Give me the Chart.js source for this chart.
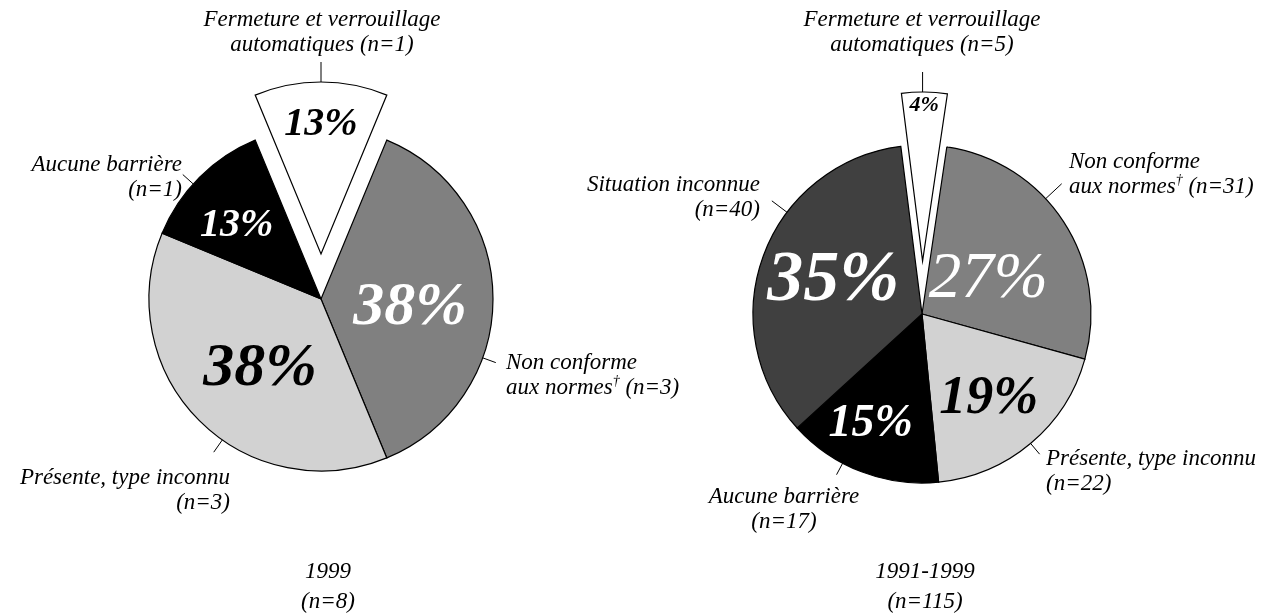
<!DOCTYPE html>
<html><head><meta charset="utf-8">
<script src="https://cdn.jsdelivr.net/npm/chart.js@4.4.1/dist/chart.umd.min.js"></script>
<style>
html,body{margin:0;padding:0;background:#fff;}
#wrap{position:relative;width:1270px;height:614px;background:#fff;}
canvas{position:absolute;left:0;top:0;}
</style></head><body>
<div id="wrap"><canvas id="c1" width="1270" height="614"></canvas><canvas id="c2" width="1270" height="614"></canvas></div>
<script>
// ---- data ----
const categories1999 = ['Fermeture et verrouillage automatiques', 'Non conforme aux normes†', 'Présente, type inconnu', 'Aucune barrière'];
const counts1999 = [1, 3, 3, 1];
const percents1999 = ['13%', '38%', '38%', '13%'];
const title1999 = ['1999', '(n=8)'];

const categoriesAll = ['Fermeture et verrouillage automatiques', 'Non conforme aux normes†', 'Présente, type inconnu', 'Aucune barrière', 'Situation inconnue'];
const countsAll = [5, 31, 22, 17, 40];
const percentsAll = ['4%', '27%', '19%', '15%', '35%'];
const titleAll = ['1991-1999', '(n=115)'];

// ---- styles ----
const FONT = '"Liberation Serif", "DejaVu Serif", serif';
const colors1999 = ['#ffffff', '#808080', '#d2d2d2', '#000000'];
const colorsAll = ['#ffffff', '#808080', '#d2d2d2', '#000000', '#404040'];

// label layouts (annotation positions, not data)
const layout1999 = {
  cx: 321, cy: 299, r: 172, rotation: -22.5, explodeIndex: 0, explode: 45,
  pct: [ {f:0.75, size:40, color:'#000', bold:true},
         {f:0.52, size:62, color:'#fff', bold:true, da:6},
         {f:0.54, size:62, color:'#000', bold:true, da:-4},
         {f:0.65, size:40, color:'#fff', bold:true, da:-4} ],
  labels: [
    {lines:['Fermeture et verrouillage', 'automatiques (n=1)'], x:322, y:20, align:'center', lead:{a:0, len:20}},
    {lines:['Non conforme', 'aux normes† (n=3)'], x:506, y:363, align:'left', lead:{a:110, len:14}},
    {lines:['Présente, type inconnu', '(n=3)'], x:230, y:478, align:'right', lead:{a:215, len:15}},
    {lines:['Aucune barrière', '(n=1)'], x:182, y:165, align:'right', lead:{a:312, len:14}}
  ],
  title: {x:328, y:572}
};
const layoutAll = {
  cx: 922, cy: 314, r: 169, rotation: -7.2, explodeIndex: 0, explode: 53,
  pct: [ {f:0.92, size:22, color:'#000', bold:true},
         {f:0.44, size:65, color:'#fff', bold:false, da:6},
         {f:0.64, size:54, color:'#000', bold:true, da:2},
         {f:0.72, size:46, color:'#fff', bold:true, da:4},
         {f:0.56, size:72, color:'#fff', bold:true, da:0} ],
  labels: [
    {lines:['Fermeture et verrouillage', 'automatiques (n=5)'], x:922, y:20, align:'center', lead:{a:0, len:20}},
    {lines:['Non conforme', 'aux normes† (n=31)'], x:1069, y:162, align:'left', lead:{a:47, len:22}},
    {lines:['Présente, type inconnu', '(n=22)'], x:1046, y:459, align:'left', lead:{a:140, len:14}},
    {lines:['Aucune barrière', '(n=17)'], x:784, y:497, align:'center', lead:{a:208, len:13}},
    {lines:['Situation inconnue', '(n=40)'], x:760, y:185, align:'right', lead:{a:307, len:19}}
  ],
  title: {x:925, y:572}
};

function drawRich(ctx, text, x, y, align, size) {
  const parts = text.split('†');
  const segs = [];
  parts.forEach((p, i) => { if (p) segs.push({t:p, sup:false}); if (i < parts.length - 1) segs.push({t:'†', sup:true}); });
  const fMain = 'italic ' + size + 'px ' + FONT;
  const fSup = 'italic ' + Math.round(size * 0.6) + 'px ' + FONT;
  let total = 0;
  segs.forEach(s => { ctx.font = s.sup ? fSup : fMain; s.w = ctx.measureText(s.t).width; total += s.w; });
  let sx = align === 'center' ? x - total / 2 : (align === 'right' ? x - total : x);
  ctx.textAlign = 'left';
  ctx.textBaseline = 'middle';
  segs.forEach(s => {
    ctx.font = s.sup ? fSup : fMain;
    ctx.fillText(s.t, sx, s.sup ? y - size * 0.3 : y);
    sx += s.w;
  });
}

const explodePlugin = {
  id: 'explodePlugin',
  afterDatasetsUpdate(chart) {
    const L = chart.options.plugins.explodePlugin;
    const el = chart.getDatasetMeta(0).data[L.explodeIndex];
    if (!el) return;
    const mid = (el.startAngle + el.endAngle) / 2;
    el.x += Math.cos(mid) * L.explode;
    el.y += Math.sin(mid) * L.explode;
  }
};

const labelPlugin = {
  id: 'labelPlugin',
  afterDatasetsDraw(chart) {
    const L = chart.options.plugins.explodePlugin;
    const ctx = chart.ctx;
    const meta = chart.getDatasetMeta(0);
    const percents = chart.data.datasets[0].percents;
    ctx.save();
    meta.data.forEach((el, i) => {
      const p = L.pct[i];
      const mid = (el.startAngle + el.endAngle) / 2 + (p.da || 0) * Math.PI / 180;
      const px = el.x + Math.cos(mid) * el.outerRadius * p.f;
      const py = el.y + Math.sin(mid) * el.outerRadius * p.f;
      ctx.font = 'italic ' + (p.bold ? 'bold ' : '') + p.size + 'px ' + FONT;
      ctx.fillStyle = p.color;
      ctx.textAlign = 'center';
      ctx.textBaseline = 'middle';
      ctx.fillText(percents[i], px, py);
      const lab = L.labels[i];
      const a = (lab.lead.a - 90) * Math.PI / 180;
      const r0 = el.outerRadius;
      ctx.strokeStyle = '#000';
      ctx.lineWidth = 1;
      ctx.beginPath();
      ctx.moveTo(el.x + Math.cos(a) * r0, el.y + Math.sin(a) * r0);
      ctx.lineTo(el.x + Math.cos(a) * (r0 + lab.lead.len), el.y + Math.sin(a) * (r0 + lab.lead.len));
      ctx.stroke();
      ctx.fillStyle = '#000';
      lab.lines.forEach((t, k) => drawRich(ctx, t, lab.x, lab.y + k * 25, lab.align, 23));
    });
    const titles = L.titles;
    titles.forEach((t, k) => drawRich(ctx, t, L.title.x, L.title.y + k * 30, 'center', 23));
    ctx.restore();
  }
};

function makeChart(id, cats, counts, percents, colors, L, titles) {
  L.titles = titles;
  const W = 1270, H = 614;
  return new Chart(document.getElementById(id), {
    type: 'pie',
    data: {
      labels: cats,
      datasets: [{
        data: counts,
        percents: percents,
        backgroundColor: colors,
        borderColor: '#000',
        borderWidth: 1.2,
        borderJoinStyle: 'miter'
      }]
    },
    options: {
      responsive: false,
      animation: false,
      devicePixelRatio: 1,
      rotation: L.rotation,
      radius: L.r,
      layout: { padding: {
        left: Math.max(0, 2 * L.cx - W), right: Math.max(0, W - 2 * L.cx),
        top: Math.max(0, 2 * L.cy - H), bottom: Math.max(0, H - 2 * L.cy) } },
      plugins: {
        legend: { display: false },
        tooltip: { enabled: false },
        explodePlugin: L
      },
      events: []
    },
    plugins: [explodePlugin, labelPlugin]
  });
}

makeChart('c1', categories1999, counts1999, percents1999, colors1999, layout1999, title1999);
makeChart('c2', categoriesAll, countsAll, percentsAll, colorsAll, layoutAll, titleAll);
</script>
</body></html>
